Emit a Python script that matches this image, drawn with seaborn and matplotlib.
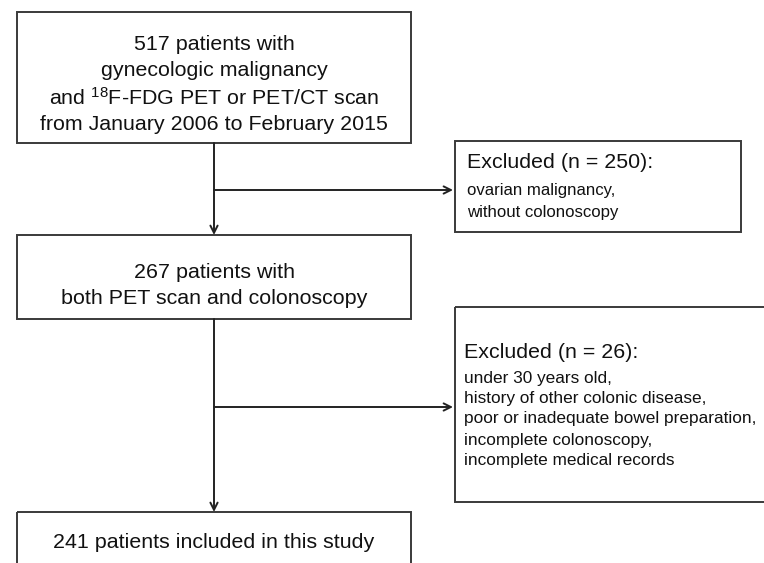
import matplotlib
matplotlib.use("Agg")
import matplotlib.pyplot as plt
from matplotlib.patches import Rectangle
import seaborn as sns

sns.set_theme(style="white")
plt.rcParams['font.family'] = ['Liberation Sans', 'DejaVu Sans']
plt.rcParams['mathtext.fontset'] = 'custom'
plt.rcParams['mathtext.rm'] = 'Liberation Sans'
plt.rcParams['mathtext.it'] = 'Liberation Sans:italic'

# ---- data ----
counts = [517, 267, 241]
excluded_counts = [250, 26]
main_texts = [
    [f"{counts[0]} patients with", "gynecologic malignancy",
     r"and $^{18}$F-FDG PET or PET/CT scan", "from January 2006 to February 2015"],
    [f"{counts[1]} patients with", "both PET scan and colonoscopy"],
    [f"{counts[2]} patients included in this study"],
]
excluded_reasons = [
    ["ovarian malignancy,", "without colonoscopy"],
    ["under 30 years old,", "history of other colonic disease,",
     "poor or inadequate bowel preparation,", "incomplete colonoscopy,",
     "incomplete medical records"],
]

W, H = 764, 563
fig = plt.figure(figsize=(W / 100, H / 100), dpi=100)
ax = fig.add_axes([0, 0, 1, 1])
ax.set_xlim(0, W)
ax.set_ylim(H, 0)
ax.axis('off')

ec = '#3a3a3a'
lw = 1.4
main_fs = 15.4

def box(x0, y0, x1, y1):
    ax.add_patch(Rectangle((x0, y0), x1 - x0, y1 - y0, fill=False,
                           edgecolor=ec, linewidth=lw, zorder=2))

# main boxes
main_boxes = [(17, 12, 411, 143), (17, 235, 411, 319), (17, 512, 411, 600)]
main_line_y = [[45, 71, 98, 124], [273, 298], [543]]
for (x0, y0, x1, y1), lines, ys in zip(main_boxes, main_texts, main_line_y):
    box(x0, y0, x1, y1)
    for t, y in zip(lines, ys):
        ax.text((x0 + x1) / 2, y, t, ha='center', va='center',
                fontsize=main_fs, color='#111111')

# exclusion boxes
excl_boxes = [(455, 141, 741, 232), (455, 307, 800, 502)]
excl_head_y = [163, 353]
excl_line_y = [[190, 212], [378, 398, 419, 440, 461]]
excl_fs = [12.1, 12.4]
excl_x = [467, 464]
for (x0, y0, x1, y1), n, reasons, hy, ys, fs, tx in zip(
        excl_boxes, excluded_counts, excluded_reasons, excl_head_y, excl_line_y, excl_fs, excl_x):
    box(x0, y0, x1, y1)
    ax.text(tx, hy, f"Excluded (n = {n}):", ha='left', va='center',
            fontsize=main_fs, color='#111111')
    for t, y in zip(reasons, ys):
        ax.text(tx, y, t, ha='left', va='center', fontsize=fs, color='#111111')

# connectors
cx = 214
arrowprops = dict(arrowstyle='->', color='#222222', lw=1.4,
                  shrinkA=0, shrinkB=0, mutation_scale=13)
ax.annotate('', xy=(cx, 235), xytext=(cx, 143), arrowprops=arrowprops)
ax.annotate('', xy=(cx, 512), xytext=(cx, 319), arrowprops=arrowprops)
ax.annotate('', xy=(453, 190), xytext=(cx, 190), arrowprops=arrowprops)
ax.annotate('', xy=(453, 407), xytext=(cx, 407), arrowprops=arrowprops)

fig.savefig("out.png", dpi=100)
